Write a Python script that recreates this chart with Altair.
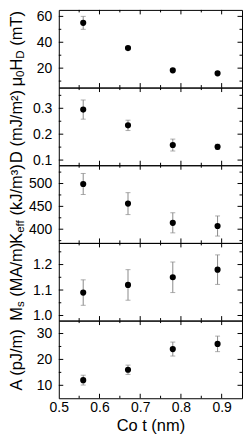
import altair as alt
import pandas as pd

FONT = "Liberation Sans"
TFS = 16.5      # title font size
LFS = 14        # tick label font size
EC = "#8a8a8a"  # error bar colour

# ---------------- data ----------------
cot = [0.56, 0.67, 0.78, 0.89]

hd = [55, 35.5, 18.3, 16]
hd_err = [5, 1.2, 1.2, 1.0]
dmi = [0.295, 0.234, 0.158, 0.151]
dmi_err = [0.037, 0.02, 0.023, 0.01]
keff = [499, 456, 414, 407]
keff_err = [23, 24, 22, 22]
ms = [1.09, 1.12, 1.15, 1.18]
ms_err = [0.05, 0.06, 0.06, 0.058]
aex = [12, 16, 24, 26]
aex_err = [1.9, 1.8, 2.7, 3.0]

x_domain = [0.5, 0.95]
x_labels = [0.5, 0.6, 0.7, 0.8, 0.9]
x_major = [0.6, 0.7, 0.8, 0.9]
x_minor = [0.55, 0.65, 0.75, 0.85]

panels = [
    dict(vals=hd, err=hd_err, domain=[5, 65], major=[20, 40, 60], minor=[10, 30, 50], fmt="d",
         title=[("μ", "n"), ("0", "s"), ("H", "n"), ("D", "s"), (" (mT)", "n")]),
    dict(vals=dmi, err=dmi_err, domain=[0.08, 0.38], major=[0.1, 0.2, 0.3], minor=[0.15, 0.25, 0.35], fmt=".1f",
         title=[("D (mJ/m²)", "n")]),
    dict(vals=keff, err=keff_err, domain=[370, 540], major=[400, 450, 500], minor=[375, 425, 475, 525], fmt="d",
         title=[("K", "n"), ("eff", "s"), (" (kJ/m³)", "n")]),
    dict(vals=ms, err=ms_err, domain=[0.98, 1.285], major=[1.0, 1.1, 1.2], minor=[1.05, 1.15, 1.25], fmt=".1f",
         title=[("M", "n"), ("s", "s"), (" (MA/m)", "n")]),
    dict(vals=aex, err=aex_err, domain=[5, 35], major=[10, 20, 30], minor=[15, 25], fmt="d",
         title=[("A (pJ/m)", "n")]),
]

W = 184
H = 78
MAJ = 4.5
MIN = 2.5
TX = -37      # title baseline, relative to plot left
SUB = 2.5     # subscript shift

AW = {' ': 278, '(': 333, ')': 333, '/': 278, '.': 278,
      'A': 667, 'C': 722, 'D': 722, 'H': 722, 'J': 500, 'K': 667, 'M': 833, 'T': 611,
      'e': 556, 'f': 278, 'k': 500, 'm': 833, 'n': 556, 'p': 556, 's': 500, 't': 278, 'o': 556,
      'μ': 576, '²': 333, '³': 333}


def tw(s, size):
    return sum(AW.get(c, 556) for c in s) * size / 1000.0


def title_layers(pieces):
    sizes = {"n": TFS, "s": TFS * 0.7}
    total = sum(tw(t, sizes[k]) for t, k in pieces)
    y = H / 2 + total / 2
    out = []
    for t, k in pieces:
        fs = sizes[k]
        lead = len(t) - len(t.lstrip(" "))
        y -= tw(" " * lead, fs)
        txt = t.strip(" ")
        out.append(
            alt.Chart(pd.DataFrame({"a": [0]})).mark_text(
                text=txt, angle=270, align="left", baseline="alphabetic",
                font=FONT, fontSize=fs, color="black")
            .encode(x=alt.value(TX + (SUB if k == "s" else 0)), y=alt.value(y))
        )
        y -= tw(txt, fs)
    return out


def make_panel(p, last):
    df = pd.DataFrame({
        "x": cot,
        "v": p["vals"],
        "lo": [v - e for v, e in zip(p["vals"], p["err"])],
        "hi": [v + e for v, e in zip(p["vals"], p["err"])],
    })
    xs = alt.Scale(domain=x_domain, nice=False, zero=False)
    ys = alt.Scale(domain=p["domain"], nice=False, zero=False)
    if last:
        xaxis = alt.Axis(values=x_labels, format=".1f", title="Co t (nm)", ticks=False, tickSize=0,
                         domain=False, grid=False, labelPadding=2, titlePadding=3.5,
                         labelFlush=False, labelFontSize=LFS, titleFontSize=TFS,
                         titleFontWeight="normal")
    else:
        xaxis = None
    yaxis = alt.Axis(values=p["major"], format=p["fmt"], title=None, ticks=False, tickSize=0,
                     domain=False, grid=False, labelPadding=7, labelFontSize=LFS)

    def X(f):
        return alt.X(f, scale=xs, axis=xaxis, title="Co t (nm)" if last else None)

    def Y(f):
        return alt.Y(f, scale=ys, axis=yaxis, title=None)

    base = alt.Chart(df)
    rules = base.mark_rule(color=EC, strokeWidth=1).encode(x=X("x:Q"), y=Y("lo:Q"), y2="hi:Q")
    cap_lo = base.mark_tick(orient="horizontal", color=EC, size=5, thickness=1).encode(
        x=X("x:Q"), y=Y("lo:Q"))
    cap_hi = base.mark_tick(orient="horizontal", color=EC, size=5, thickness=1).encode(
        x=X("x:Q"), y=Y("hi:Q"))
    pts = base.mark_circle(size=38, color="black", opacity=1).encode(x=X("x:Q"), y=Y("v:Q"))

    layers = [rules, cap_lo, cap_hi, pts]

    # inside ticks on all four sides
    for vals, L in ((p["major"], MAJ), (p["minor"], MIN)):
        tdf = pd.DataFrame({"t": vals})
        for x1, x2 in ((0, L), (W - L, W)):
            layers.append(alt.Chart(tdf).mark_rule(color="black", strokeWidth=1).encode(
                y=Y("t:Q"), x=alt.value(x1), x2=alt.value(x2)))
    for vals, L in ((x_major, MAJ), (x_minor, MIN)):
        tdf = pd.DataFrame({"t": vals})
        for y1, y2 in ((0, L), (H - L, H)):
            layers.append(alt.Chart(tdf).mark_rule(color="black", strokeWidth=1).encode(
                x=X("t:Q"), y=alt.value(y1), y2=alt.value(y2)))

    layers += title_layers(p["title"])
    return alt.layer(*layers).properties(width=W, height=H)


charts = [make_panel(p, i == len(panels) - 1) for i, p in enumerate(panels)]

chart = (
    alt.vconcat(*charts, spacing=0, bounds="flush")
    .properties(padding=0)
    .configure(font=FONT)
    .configure_axis(labelFont=FONT, titleFont=FONT, labelColor="black", titleColor="black",
                    labelFontSize=LFS, titleFontSize=TFS, titleFontWeight="normal", grid=False)
    .configure_view(stroke="black", strokeWidth=1)
)

chart.save("out.html", embed_options={"renderer": "svg", "actions": False})
